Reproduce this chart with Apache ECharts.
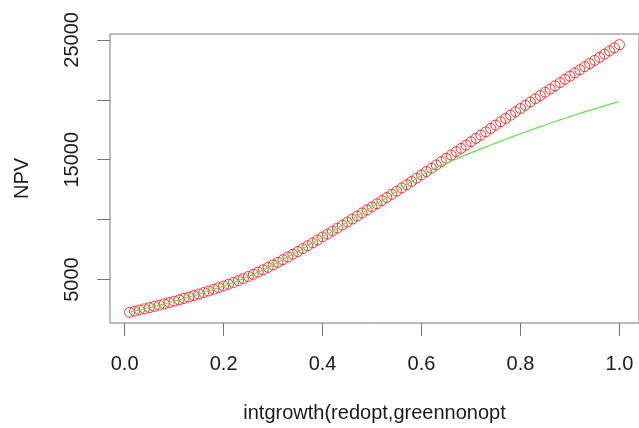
<!DOCTYPE html>
<html>
<head>
<meta charset="utf-8">
<script src="https://cdn.jsdelivr.net/npm/echarts@6/dist/echarts.min.js"></script>
<style>
html,body{margin:0;padding:0;background:#fff;}
#chart{width:639px;height:428px;}
</style>
</head>
<body>
<div id="chart"></div>
<script>
var growth = [0.01,0.02,0.03,0.04,0.05,0.06,0.07,0.08,0.09,0.10,
0.11,0.12,0.13,0.14,0.15,0.16,0.17,0.18,0.19,0.20,
0.21,0.22,0.23,0.24,0.25,0.26,0.27,0.28,0.29,0.30,
0.31,0.32,0.33,0.34,0.35,0.36,0.37,0.38,0.39,0.40,
0.41,0.42,0.43,0.44,0.45,0.46,0.47,0.48,0.49,0.50,
0.51,0.52,0.53,0.54,0.55,0.56,0.57,0.58,0.59,0.60,
0.61,0.62,0.63,0.64,0.65,0.66,0.67,0.68,0.69,0.70,
0.71,0.72,0.73,0.74,0.75,0.76,0.77,0.78,0.79,0.80,
0.81,0.82,0.83,0.84,0.85,0.86,0.87,0.88,0.89,0.90,
0.91,0.92,0.93,0.94,0.95,0.96,0.97,0.98,0.99,1.00];

var redOpt = [2270,2365,2462,2561,2662,2765,2870,2977,3086,3197,
3310,3426,3545,3667,3792,3920,4051,4185,4322,4462,
4607,4759,4918,5084,5257,5437,5624,5818,6019,6227,
6441,6660,6884,7112,7344,7580,7819,8061,8305,8551,
8798,9046,9295,9545,9796,10048,10301,10555,10810,11066,
11324,11584,11846,12110,12376,12644,12914,13186,13460,13736,
14012,14288,14564,14840,15116,15392,15668,15944,16220,16496,
16774,17052,17330,17608,17886,18164,18442,18720,18998,19276,
19546,19816,20086,20356,20626,20896,21166,21436,21706,21976,
22238,22500,22762,23024,23286,23548,23810,24072,24334,24596];

var greenNonOpt = [2270,2365,2462,2561,2662,2765,2870,2977,3086,3197,
3310,3426,3545,3667,3792,3920,4051,4185,4322,4462,
4607,4759,4918,5084,5257,5437,5624,5818,6019,6227,
6441,6660,6884,7112,7344,7580,7819,8061,8305,8551,
8798,9046,9295,9545,9796,10048,10301,10555,10810,11066,
11324,11584,11846,12110,12376,12644,12914,13186,13450,13698,
13930,14145,14343,14525,14705,14883,15059,15233,15405,15575,
15741,15905,16068,16229,16389,16547,16704,16859,17013,17165,
17315,17464,17611,17757,17901,18044,18185,18325,18463,18600,
18733,18864,18993,19121,19247,19372,19495,19617,19737,19856];

var xTicks = [0, 0.2, 0.4, 0.6, 0.8, 1.0];
var yTicks = [5000, 10000, 15000, 20000, 25000];
var yLabels = [5000, 15000, 25000];

var xTitle = 'intgrowth(redopt,greennonopt';
var yTitle = 'NPV';

function pairs(xs, ys){ return xs.map(function(x,i){ return [x, ys[i]]; }); }

var FONT = "'Liberation Sans', Arial, sans-serif";
var chart = echarts.init(document.getElementById('chart'), null, {renderer:'canvas'});
chart.setOption({
  animation: false,
  backgroundColor: '#ffffff',
  grid: {left: 110, top: 34, width: 531, height: 289.5, show: true, borderColor: '#777', borderWidth: 1, backgroundColor: 'transparent'},
  xAxis: {
    type: 'value', min: -0.0296, max: 1.0396, position: 'bottom',
    name: xTitle, nameLocation: 'middle', nameGap: 80,
    nameTextStyle: {fontFamily: FONT, fontSize: 20, color: '#1a1a1a'},
    axisLine: {show: false, onZero: false},
    splitLine: {show: false},
    axisTick: {show: true, inside: false, length: 13, customValues: xTicks, lineStyle: {color: '#777', width: 1}},
    axisLabel: {customValues: xTicks, margin: 31, fontFamily: FONT, fontSize: 20, color: '#1a1a1a',
      formatter: function(v){ return Number(v).toFixed(1); }}
  },
  yAxis: {
    type: 'value', min: 1377, max: 25489, position: 'left',
    name: yTitle, nameLocation: 'middle', nameGap: 78, nameRotate: 90,
    nameTextStyle: {fontFamily: FONT, fontSize: 20, color: '#1a1a1a'},
    axisLine: {show: false, onZero: false},
    splitLine: {show: false},
    axisTick: {show: true, inside: false, length: 13, customValues: yTicks, lineStyle: {color: '#777', width: 1}},
    axisLabel: {customValues: yLabels, rotate: 90, margin: 28, fontFamily: FONT, fontSize: 20, color: '#1a1a1a',
      formatter: function(v){ return String(Math.round(v)); }}
  },
  series: [
    {
      name: 'redopt', type: 'line', data: pairs(growth, redOpt),
      showSymbol: true, symbol: 'circle', symbolSize: 10,
      lineStyle: {width: 0, opacity: 0},
      itemStyle: {color: 'rgba(0,0,0,0)', borderColor: '#ff3030', borderWidth: 1},
      z: 2
    },
    {
      name: 'greennonopt', type: 'line', data: pairs(growth, greenNonOpt),
      showSymbol: false, symbol: 'none',
      lineStyle: {width: 1.2, color: '#66e050'},
      z: 3
    }
  ]
});
</script>
</body>
</html>
